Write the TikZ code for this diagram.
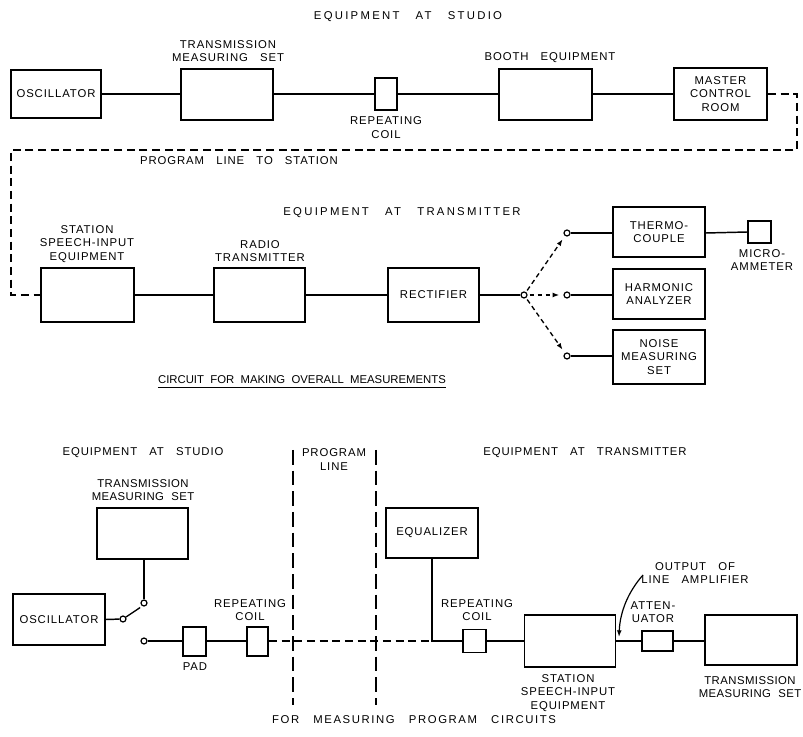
\documentclass[tikz,border=0pt]{standalone}
\usepackage{fontspec}
\setmainfont{Liberation Sans}
\newfontfamily\lblfont[LetterSpace=8,WordSpace=3]{Liberation Sans}
\newfontfamily\titlefont[LetterSpace=20,WordSpace=3]{Liberation Sans}
\newfontfamily\capfont[LetterSpace=14,WordSpace=3]{Liberation Sans}
\newfontfamily\tightfont[LetterSpace=4,WordSpace=2]{Liberation Sans}
\newfontfamily\plainfont[LetterSpace=0,WordSpace=2]{Liberation Sans}
\usetikzlibrary{arrows.meta}
\begin{document}
\begin{tikzpicture}[x=0.75pt,y=-0.75pt,
  every node/.style={font=\lblfont\fontsize{8.5}{10}\selectfont, align=center, inner sep=0pt},
  box/.style={draw, line width=1.1pt},
  wire/.style={line width=1.1pt},
  lbl/.style={},
  ttl/.style={font=\titlefont\fontsize{8.5}{10}\selectfont},
  captext/.style={font=\capfont\fontsize{8.5}{10}\selectfont},
  tighttext/.style={font=\tightfont\fontsize{8.5}{10}\selectfont},
  plaintext/.style={font=\plainfont\fontsize{8.5}{10}\selectfont},
  progline/.style={line width=1.1pt, dash pattern=on 6pt off 3.5pt},
  divline/.style={line width=0.9pt, dash pattern=on 11pt off 4.5pt},
  sel/.style={line width=1pt, dash pattern=on 3.5pt off 2.5pt, -{Latex[length=5pt,width=3.6pt]}, shorten >=3pt, shorten <=1.5pt},
  term/.style={draw, circle, line width=0.9pt, minimum size=4.5pt, fill=white}
]
\useasboundingbox (0,0) rectangle (803,737);

% ---------- top: equipment at studio ----------
\node[ttl] (tEqS) at (408,17) {EQUIPMENT AT STUDIO};
\node[box, minimum width=67.5pt, minimum height=36pt] (osc1) at (56,94) {OSCILLATOR};
\node[box, minimum width=69pt, minimum height=38pt] (tms1) at (227,94.5) {};
\node[lbl] (tms1l) at (228,51) {TRANSMISSION\\MEASURING SET};
\node[box, minimum width=16.5pt, minimum height=24pt] (rc1) at (386,94) {};
\node[lbl] (rc1l) at (386,127.5) {REPEATING\\COIL};
\node[box, minimum width=70pt, minimum height=38pt] (booth) at (545.5,94.5) {};
\node[lbl] (boothl) at (550,58) {BOOTH EQUIPMENT};
\node[box, minimum width=70pt, minimum height=39pt] (mcr) at (720.5,94) {MASTER\\CONTROL\\ROOM};

\draw[wire] (osc1.east) -- (osc1.east -| tms1.west);
\draw[wire] (tms1.east |- osc1.east) -- (rc1.west);
\draw[wire] (rc1.east) -- (rc1.east -| booth.west);
\draw[wire] (booth.east |- rc1.east) -- (mcr.west);

\coordinate (p1) at (797,94);
\coordinate (p2) at (797,150);
\coordinate (p3) at (11,150);
\coordinate (p4) at (11,295);
\node[lbl] (pls) at (239,161) {PROGRAM LINE TO STATION};

% ---------- middle: equipment at transmitter ----------
\node[ttl] (tEqT) at (402,213) {EQUIPMENT AT TRANSMITTER};
\node[box, minimum width=70pt, minimum height=40.5pt] (ssi1) at (87.5,295) {};
\node[lbl] (ssi1l) at (87,244) {STATION\\SPEECH-INPUT\\EQUIPMENT};
\node[box, minimum width=68pt, minimum height=40.5pt] (radio) at (259.5,295) {};
\node[lbl] (radiol) at (260,251) {RADIO\\TRANSMITTER};
\node[box, minimum width=68pt, minimum height=40.5pt] (rect) at (433.5,295) {RECTIFIER};

\draw[progline] (mcr.east) -- (p1) -- (p2) -- (p3) -- (p4) -- (ssi1.west);

\draw[wire] (ssi1.east) -- (radio.west);
\draw[wire] (radio.east) -- (rect.west);

\node[term] (J) at (524,295) {};
\node[term] (c1) at (567,233) {};
\node[term] (c2) at (567,295) {};
\node[term] (c3) at (567,356) {};
\draw[wire] (rect.east) -- (J);

\node[box, minimum width=69pt, minimum height=37.5pt] (thermo) at (659,232) {THERMO-\\COUPLE};
\node[box, minimum width=17pt, minimum height=16.5pt] (micro) at (759.5,232) {};
\node[lbl] (microl) at (762,260) {MICRO-\\AMMETER};
\node[box, minimum width=69pt, minimum height=37.5pt] (harm) at (659,294) {HARMONIC\\ANALYZER};
\node[box, minimum width=69pt, minimum height=40.5pt] (noise) at (659,357) {NOISE\\MEASURING\\SET};

\draw[wire] (c1) -- (c1 -| thermo.west);
\draw[wire] (thermo.east |- c1) -- (micro.west);
\draw[wire] (c2) -- (c2 -| harm.west);
\draw[wire] (c3) -- (c3 -| noise.west);

\draw[sel] (J) -- (c1);
\draw[sel] (J) -- (c2);
\draw[sel] (J) -- (c3);

\node[plaintext] (cap1) at (302,380) {CIRCUIT FOR MAKING OVERALL MEASUREMENTS};
\draw[line width=0.8pt] ([yshift=-2.5pt]cap1.south west) -- ([yshift=-2.5pt]cap1.south east);

% ---------- bottom: measuring program circuits ----------
\node[lbl] (bEqS) at (143,453) {EQUIPMENT AT STUDIO};
\node[lbl] (bPL) at (334,459.5) {PROGRAM\\LINE};
\node[lbl] (bEqT) at (585,453) {EQUIPMENT AT TRANSMITTER};
\coordinate (d1t) at (293,450);
\coordinate (d1b) at (293,705);
\coordinate (d2t) at (376,450);
\coordinate (d2b) at (376,705);
\draw[divline] (d1t) -- (d1b);
\draw[divline] (d2t) -- (d2b);

\node[box, minimum width=68pt, minimum height=38pt] (tms2) at (142.5,533.5) {};
\node[tighttext] (tms2l) at (143,490) {TRANSMISSION\\MEASURING SET};
\node[box, minimum width=69pt, minimum height=38pt] (osc2) at (59,619.5) {OSCILLATOR};
\node[term] (piv) at (123,619) {};
\node[term] (up) at (144,603) {};
\node[term] (lo) at (144,641) {};
\draw[wire] (tms2.south -| up) -- (up);
\draw[wire] (osc2.east) -- (piv);
\draw[line width=1pt] (piv) -- ([xshift=-1pt,yshift=-1.5pt]up.south west);

\node[box, minimum width=17pt, minimum height=22pt] (pad) at (194.5,641.5) {};
\node[lbl] (padl) at (195,667) {PAD};
\node[box, minimum width=16pt, minimum height=22pt] (rc2) at (257.5,641.5) {};
\node[lbl] (rc2l) at (250,610) {REPEATING\\COIL};
\draw[wire] (lo) -- (lo -| pad.west);
\draw[wire] (pad.east |- lo) -- (lo -| rc2.west);

\node[box, minimum width=69pt, minimum height=37.5pt] (eq) at (432,533) {EQUALIZER};
\coordinate (jn) at (432,641);
\draw[progline] (rc2.east |- lo) -- (jn);
\node[box, minimum width=17pt, minimum height=17pt] (rc3) at (474.5,641) {};
\node[lbl] (rc3l) at (477,610) {REPEATING\\COIL};
\draw[wire] (eq.south) -- (jn) -- (rc3.west);

\node[box, minimum width=68pt, minimum height=39pt] (ssi2) at (570,641) {};
\node[lbl] (ssi2l) at (568,693) {STATION\\SPEECH-INPUT\\EQUIPMENT};
\draw[wire] (rc3.east) -- (ssi2.west);

\node[box, minimum width=23pt, minimum height=15pt] (att) at (657.5,641) {};
\node[lbl] (attl) at (653,612) {ATTEN-\\UATOR};
\draw[wire] (ssi2.east) -- (att.west);

\node[box, minimum width=69pt, minimum height=37.5pt] (tms3) at (751,640) {};
\node[tighttext] (tms3l) at (750,687) {TRANSMISSION\\MEASURING SET};
\draw[wire] (att.east) -- (att.east -| tms3.west);

\node[lbl] (outl) at (695,573) {OUTPUT OF\\LINE AMPLIFIER};
\coordinate (arrs) at (643,575);
\coordinate (arre) at (619,637);
\draw[line width=0.9pt, -{Latex[length=5pt,width=3.6pt]}] (arrs) .. controls (628,592) and (620,612) .. (arre);

\node[captext] (cap2) at (414,720) {FOR MEASURING PROGRAM CIRCUITS};
\end{tikzpicture}
\end{document}
